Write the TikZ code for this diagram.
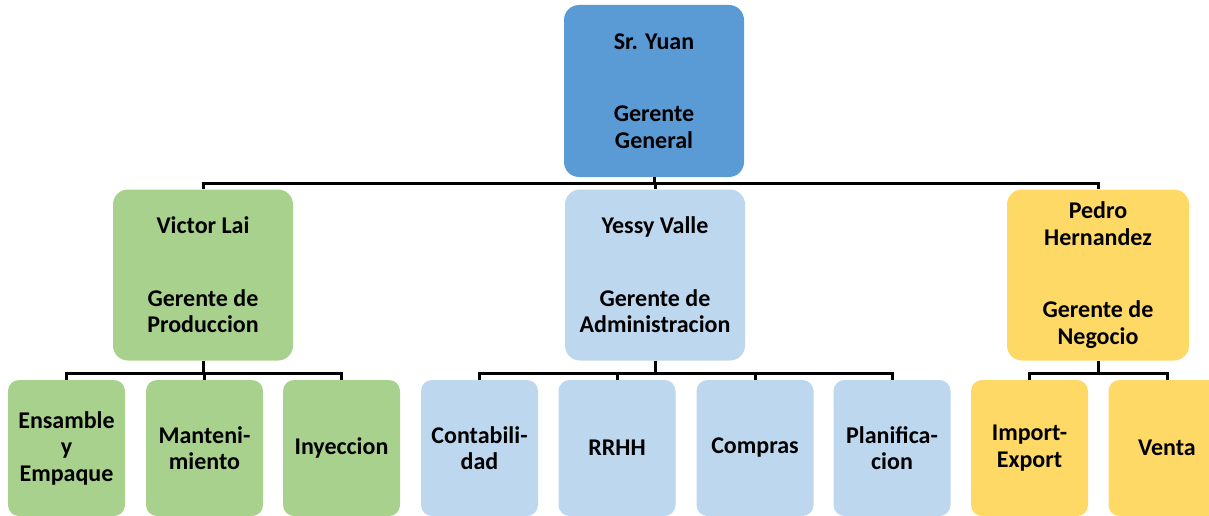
\documentclass[tikz,border=0pt]{standalone}
\usepackage{fontspec}
\setmainfont{Carlito}
\definecolor{cTop}{HTML}{5B9BD5}
\definecolor{cBlue}{HTML}{BDD7EE}
\definecolor{cGreen}{HTML}{A9D18E}
\definecolor{cYellow}{HTML}{FFD966}
\tikzset{
  box/.style={rounded corners=15pt, inner sep=0pt, align=center, text=black,
    font=\fontsize{24}{26.5}\selectfont\bfseries},
  bigbox/.style={box, minimum width=180pt, minimum height=171pt},
  smallbox/.style={box, rounded corners=11pt, minimum width=117pt, minimum height=136pt},
  conn/.style={draw=black, line width=3pt}
}
\begin{document}
\begin{tikzpicture}[x=1pt,y=-1pt]
\useasboundingbox (0,0) rectangle (1209,516);
\fill[white] (0,0) rectangle (1209,516);
\clip (0,0) rectangle (1209,516);
% level 1
\node[bigbox, fill=cTop, minimum height=172pt] (gg) at (654,91) {Sr. Yuan\\[46pt]Gerente\\General};
% level 2
\node[bigbox, fill=cGreen] (vl) at (203,275) {Victor Lai\\[46pt]Gerente de\\Produccion};
\node[bigbox, fill=cBlue] (yv) at (655,275) {Yessy Valle\\[46pt]Gerente de\\Administracion};
\node[bigbox, fill=cYellow, minimum width=182pt] (ph) at (1098,275) {Pedro\\Hernandez\\[46pt]Gerente de\\Negocio};
% level 3
\node[smallbox, fill=cGreen] (ee) at (66.5,448) {Ensamble\\y\\Empaque};
\node[smallbox, fill=cGreen] (mt) at (204.5,448) {Manteni-\\miento};
\node[smallbox, fill=cGreen] (iy) at (341.5,448) {Inyeccion};
\node[smallbox, fill=cBlue] (ct) at (479.5,448) {Contabili-\\dad};
\node[smallbox, fill=cBlue] (rh) at (617,448) {RRHH};
\node[smallbox, fill=cBlue] (cp) at (755,448) {Compras};
\node[smallbox, fill=cBlue] (pl) at (892,448) {Planifica-\\cion};
\node[smallbox, fill=cYellow] (ie) at (1029.5,448) {Import-\\Export};
\node[smallbox, fill=cYellow] (vt) at (1167,448) {Venta};
% connectors
\path (gg.south) ++(0,6) coordinate (b1);
\draw[conn] (gg.south) -- (b1);
\draw[conn] (vl.north) -- (vl.north |- b1) -- (ph.north |- b1) -- (ph.north);
\draw[conn] (yv.north) -- (yv.north |- b1);
\foreach \p/\cs in {vl/{ee,mt,iy}, yv/{ct,rh,cp,pl}, ph/{ie,vt}}{
  \path (\p.south) ++(0,13) coordinate (b2);
  \draw[conn] (\p.south) -- (b2);
  \foreach \c in \cs {
    \draw[conn] (b2) -| (\c.north);
  }
}
\end{tikzpicture}
\end{document}
